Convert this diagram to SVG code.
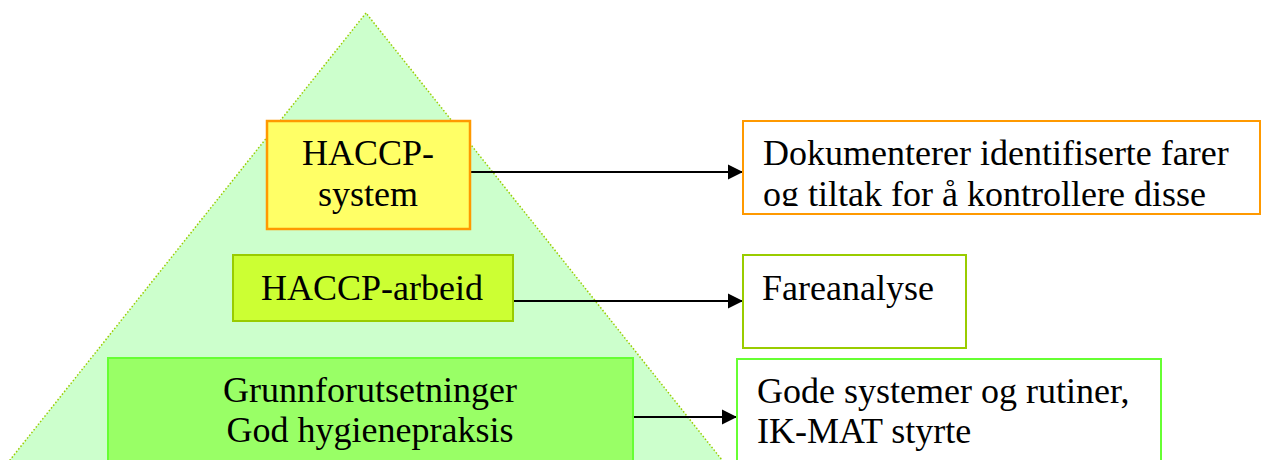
<svg xmlns="http://www.w3.org/2000/svg" width="1262" height="460" viewBox="0 0 1262 460">
<style>
.t{font-family:"Liberation Serif","Times New Roman",serif;font-size:36px;fill:#000}
.c{text-anchor:middle}
.con{stroke:#000;stroke-width:2;fill:none}
</style>
<defs>
<marker id="ah" markerWidth="16" markerHeight="16" refX="15" refY="8" orient="auto" markerUnits="userSpaceOnUse">
<path d="M0,0.5 L15,8 L0,15.5 Z" fill="#000"/>
</marker>
<clipPath id="clip1"><rect x="744" y="122" width="515" height="84"/></clipPath>
</defs>
<rect width="1262" height="460" fill="#fff"/>
<g id="pyramid">
<polygon points="366,13 6,465 726,465" fill="#CCFFCC" stroke="#99CC00" stroke-width="1.5" stroke-dasharray="1.5,2"/>
</g>
<g id="connectors">
<line class="con" x1="470" y1="172" x2="743" y2="172" marker-end="url(#ah)"/>
<line class="con" x1="513" y1="301" x2="743" y2="301" marker-end="url(#ah)"/>
<line class="con" x1="628" y1="417" x2="737" y2="417" marker-end="url(#ah)"/>
</g>
<g id="haccp-system">
<rect x="267" y="121" width="203" height="108" fill="#FFFF66" stroke="#FF9900" stroke-width="2.5"/>
<text class="t c" x="368" y="165">HACCP-</text>
<text class="t c" x="368" y="206">system</text>
</g>
<g id="haccp-arbeid">
<rect x="233" y="255" width="280" height="66" fill="#CCFF33" stroke="#99CC00" stroke-width="2"/>
<text class="t c" x="372" y="300">HACCP-arbeid</text>
</g>
<g id="grunnforutsetninger">
<rect x="108" y="358" width="525" height="106" fill="#99FF66" stroke="#66FF33" stroke-width="2"/>
<text class="t c" x="370" y="402">Grunnforutsetninger</text>
<text class="t c" x="370" y="442">God hygienepraksis</text>
</g>
<g id="dokumenterer">
<rect x="743" y="121" width="517" height="93" fill="#fff" stroke="#FF9900" stroke-width="2"/>
<g clip-path="url(#clip1)">
<text class="t" x="763" y="165">Dokumenterer identifiserte farer</text>
<text class="t" x="763" y="206">og tiltak for å kontrollere disse</text>
</g>
</g>
<g id="fareanalyse">
<rect x="743" y="255" width="223" height="93" fill="#fff" stroke="#99CC00" stroke-width="2"/>
<text class="t" x="762" y="300">Fareanalyse</text>
</g>
<g id="gode-systemer">
<rect x="737" y="359" width="424" height="103" fill="#fff" stroke="#66FF33" stroke-width="2"/>
<text class="t" x="757" y="403">Gode systemer og rutiner,</text>
<text class="t" x="757" y="443">IK-MAT styrte</text>
</g>
</svg>
